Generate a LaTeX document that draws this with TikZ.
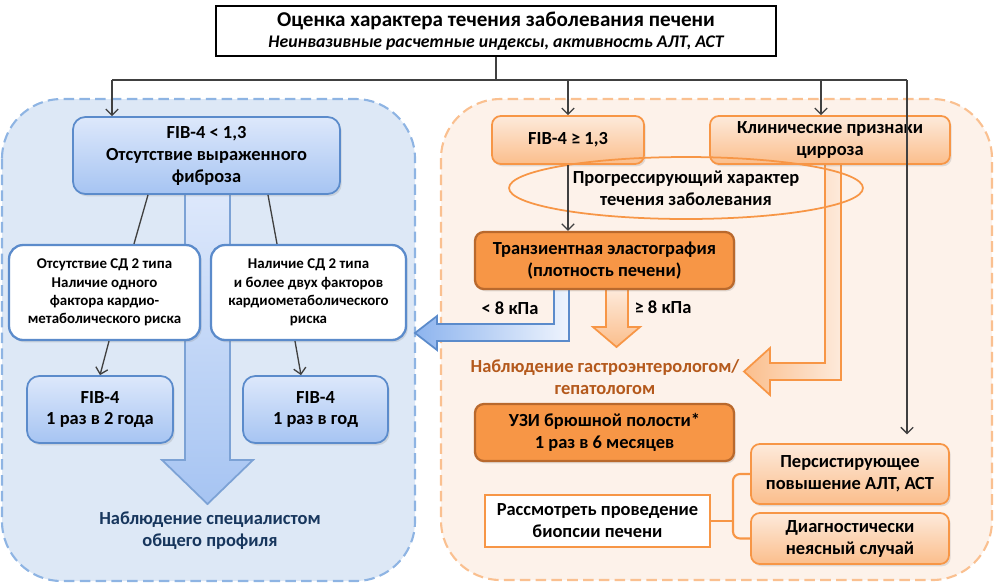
\documentclass[tikz,border=0pt]{standalone}
\usepackage{fontspec}
\setmainfont{Carlito}
\usetikzlibrary{arrows.meta,shapes.geometric,shadows,calc}
\definecolor{bluePanel}{HTML}{DDE8F6}
\definecolor{bluePanelLine}{HTML}{8EB4E3}
\definecolor{orPanel}{HTML}{FDF2EA}
\definecolor{orPanelLine}{HTML}{FAC090}
\definecolor{blueTop}{HTML}{DDE8FB}
\definecolor{blueBot}{HTML}{A6C4F2}
\definecolor{blueLine}{HTML}{5B8BCB}
\definecolor{blueArr}{HTML}{8DB4EE}
\definecolor{orTop}{HTML}{FDEADB}
\definecolor{orBot}{HTML}{FBBE8C}
\definecolor{orLine}{HTML}{F79646}
\definecolor{orDark}{HTML}{F79646}
\definecolor{orDarkLine}{HTML}{B9692D}
\definecolor{navy}{HTML}{17365D}
\definecolor{brownTxt}{HTML}{B4591C}
\definecolor{connC}{HTML}{404040}
\newcommand{\fsA}{\fontsize{10.5}{12.5}\selectfont\bfseries}
\newcommand{\fsB}{\fontsize{8.5}{10.5}\selectfont\bfseries}
\newcommand{\fsC}{\fontsize{10.5}{12.5}\selectfont\bfseries}
\begin{document}
\begin{tikzpicture}[x=0.02cm,y=-0.02cm,
  conn/.style={draw=connC, line width=0.75pt},
  arr/.style={conn, -{Straight Barb[length=3.5pt,width=7pt]}},
  shad/.style={drop shadow={opacity=0.22, shadow xshift=1pt, shadow yshift=-1.3pt}},
  bluebox/.style={draw=blueLine, line width=1pt, top color=blueTop, bottom color=blueBot, rounded corners=7pt, align=center, inner sep=0pt, font=\fsA, shad},
  whitebox/.style={draw=blueLine, line width=1.3pt, fill=white, rounded corners=8pt, align=center, inner sep=0pt, font=\fsB, shad},
  orbox/.style={draw=orLine, line width=1pt, top color=orTop, bottom color=orBot, rounded corners=5pt, align=center, inner sep=0pt, font=\fsA, shad},
  ordark/.style={draw=orDarkLine, line width=1.3pt, fill=orDark, rounded corners=5pt, align=center, inner sep=0pt, font=\fsA, shad},
  panel/.style={line width=1.2pt, dash pattern=on 6pt off 3pt, rounded corners=34pt},
  txt/.style={align=center, inner sep=0pt, font=\fsA},
]
\useasboundingbox (0,0) rectangle (994,583);

% panels
\draw[panel, draw=bluePanelLine, fill=bluePanel] (2,99) rectangle (415,581);
\draw[panel, draw=orPanelLine, fill=orPanel] (441,99) rectangle (992,580);

% block arrows
\path[draw=blueLine!80, line width=1pt, top color=blueTop, bottom color=blueBot]
  (185,194) -- (185,460) -- (162,460) -- (207.5,504) -- (253,460) -- (230,460) -- (230,194) -- cycle;
\path[draw=blueLine, line width=1pt, left color=blueArr, right color=blueTop!50!white]
  (554,289) -- (554,324) -- (437,324) -- (437,316) -- (415,333) -- (437,350) -- (437,341) -- (569,341) -- (569,289) -- cycle;
\path[draw=orLine, line width=1pt, top color=orTop, bottom color=orBot]
  (606,289) -- (606,327) -- (593,327) -- (616.5,347) -- (640,327) -- (628,327) -- (628,289) -- cycle;
\path[draw=orLine, line width=1pt, left color=orBot, right color=orTop]
  (825,164) -- (825,363) -- (770,363) -- (770,348) -- (744,371.5) -- (770,395) -- (770,380) -- (841,380) -- (841,164) -- cycle;

% title
\node[draw=black, line width=1.2pt, fill=white, minimum width=11.2cm, minimum height=1cm, inner sep=0pt, align=center] (top) at (496,31)
  {{\fontsize{12}{14}\selectfont\bfseries Оценка характера течения заболевания печени}\\[0pt]
   {\fontsize{10.1}{12}\selectfont\bfseries\itshape Неинвазивные расчетные индексы, активность АЛТ, АСТ}};

% left side
\node[bluebox, minimum width=5.34cm, minimum height=1.54cm] (fibL) at (206.5,155.5) {FIB-4 < 1,3\\Отсутствие выраженного\\фиброза};
\node[whitebox, minimum width=3.82cm, minimum height=1.9cm] (wL) at (104.5,292.5) {Отсутствие СД 2 типа\\Наличие одного\\фактора кардио-\\метаболического риска};
\node[whitebox, minimum width=3.9cm, minimum height=1.9cm] (wR) at (308.5,292.5) {Наличие СД 2 типа\\и более двух факторов\\кардиометаболического\\риска};
\node[bluebox, font=\fsC, minimum width=2.92cm, minimum height=1.34cm] (fL) at (100,409.5) {FIB-4\\1 раз в 2 года};
\node[bluebox, font=\fsC, minimum width=2.9cm, minimum height=1.34cm] (fR) at (315.5,409.5) {FIB-4\\1 раз в год};
\node[txt, text=navy] (obsL) at (210,531) {Наблюдение специалистом\\общего профиля};

% right side
\node[orbox, minimum width=3.04cm, minimum height=0.96cm] (fibR) at (568,140) {FIB-4 ≥ 1,3};
\node[orbox, minimum width=4.8cm, minimum height=0.96cm] (clin) at (830,140) {Клинические признаки\\цирроза};
\node[ellipse, draw=orLine, line width=1pt, minimum width=7.08cm, minimum height=1.24cm, inner sep=0pt, align=center, font=\fsA] (prog) at (686,188) {Прогрессирующий характер\\течения заболевания};
\node[ordark, minimum width=5.18cm, minimum height=1.14cm] (elast) at (604.5,260.5) {Транзиентная эластография\\(плотность печени)};
\node[txt] (lt8) at (510,308) {< 8 кПа};
\node[txt] (ge8) at (663,307) {≥ 8 кПа};
\node[txt, text=brownTxt] (obsR) at (605,377) {Наблюдение гастроэнтерологом/\\гепатологом};
\node[ordark, minimum width=5.18cm, minimum height=1.14cm] (uzi) at (604.5,432.5) {УЗИ брюшной полости*\\1 раз в 6 месяцев};
\node[orbox, minimum width=3.96cm, minimum height=1.2cm] (pers) at (850,474) {Персистирующее\\повышение АЛТ, АСТ};
\node[orbox, minimum width=3.96cm, minimum height=1.02cm] (diag) at (850,538.5) {Диагностически\\неясный случай};
\node[draw=orLine, line width=1.4pt, fill=white, minimum width=4.5cm, minimum height=1.04cm, inner sep=0pt, align=center, font=\fsA] (biop) at (597.5,521) {Рассмотреть проведение\\биопсии печени};

% connectors
\coordinate (hub) at (496,80);
\coordinate (jL) at (112,80);
\coordinate (jR) at (907,80);
\coordinate (cT) at ([xshift=-0.18cm]clin.north);
\draw[conn] (top.south) -- (hub);
\draw[conn] (jL) -- (jR);
\draw[arr] (jL) -- (jL |- fibL.north);
\draw[arr] (fibR.north |- jL) -- (fibR.north);
\draw[arr] (cT |- jL) -- (cT);
\draw[arr, shorten >=5pt] (jR) -- (jR |- pers.north);
\draw[arr] (fibR.south) -- (fibR.south |- elast.north);
\draw[conn] ([xshift=-1.17cm]fibL.south) -- ([xshift=0.59cm]wL.north);
\draw[conn] ([xshift=1.23cm]fibL.south) -- ([xshift=-0.63cm]wR.north);
\draw[arr] ([xshift=0.09cm]wL.south) -- (fL.north);
\draw[arr] ([xshift=-0.27cm]wR.south) -- ([xshift=-0.29cm]fR.north);

% bracket
\coordinate (brX) at (733,521);
\draw[draw=orLine, line width=1.2pt, rounded corners=4pt] (pers.west) -- (pers.west -| brX) |- (diag.west);
\draw[draw=orLine, line width=1.2pt] (biop.east) -- (brX);
\end{tikzpicture}
\end{document}
